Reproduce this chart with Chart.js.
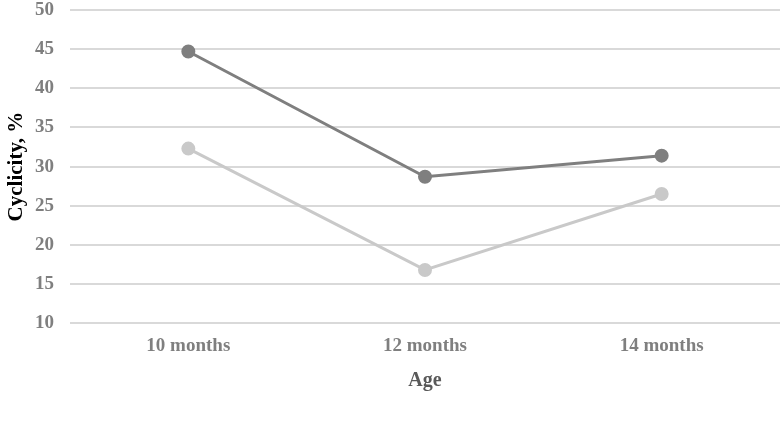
<!DOCTYPE html>
<html>
<head>
<meta charset="utf-8">
<script src="https://cdn.jsdelivr.net/npm/chart.js@4/dist/chart.umd.min.js"></script>
<style>
  html, body { margin: 0; padding: 0; background: #fff; }
  #wrap { width: 780px; height: 434px; }
</style>
</head>
<body>
<div id="wrap"><canvas id="grafico"></canvas></div>
<script>
// dados
const categorias = ['10 months', '12 months', '14 months'];
const valoresControl = [44.7, 28.7, 31.4];
const valoresMultimin = [32.3, 16.8, 26.5];
const ticksY = [10, 15, 20, 25, 30, 35, 40, 45, 50];

const corControl = '#7f7f7f';
const corMultimin = '#c9c9c9';
const corGrade = '#d9d9d9';
const corTexto = '#7f7f7f';
const fonte = "'Liberation Serif', 'Times New Roman', serif";
const espacoLegenda = 26;

// icone da legenda: linha com circulo
function iconeLegenda(cor) {
    var c = document.createElement('canvas');
    c.width = 40; c.height = 12;
    var ctx = c.getContext('2d');
    ctx.strokeStyle = cor;
    ctx.lineWidth = 3;
    ctx.beginPath();
    ctx.moveTo(0, 6); ctx.lineTo(40, 6);
    ctx.stroke();
    ctx.fillStyle = cor;
    ctx.beginPath();
    ctx.arc(20, 6, 5, 0, Math.PI * 2);
    ctx.fill();
    return c;
}

const icones = [iconeLegenda(corControl), iconeLegenda(corMultimin)];

// encurta a caixa da legenda (o padding so serve para separar os itens na horizontal)
const ajusteLegenda = {
    id: 'ajusteLegenda',
    afterInit: (chart) => {
        var legenda = chart.legend;
        if (!legenda) return;
        var fitOriginal = legenda.fit;
        legenda.fit = function () {
            fitOriginal.call(this);
            this.height -= 5 + espacoLegenda;
        };
    }
};

const data = {
    labels: categorias,
    datasets: [{
        label: 'Control',
        data: valoresControl,
        borderColor: corControl,
        backgroundColor: corControl,
        borderWidth: 3,
        pointRadius: 5.5,
        pointHoverRadius: 5.5,
        tension: 0
    }, {
        label: 'Multimin',
        data: valoresMultimin,
        borderColor: corMultimin,
        backgroundColor: corMultimin,
        borderWidth: 3,
        pointRadius: 5.5,
        pointHoverRadius: 5.5,
        tension: 0
    }]
};

const config = {
    type: 'line',
    data,
    plugins: [ajusteLegenda],
    options: {
        responsive: true,
        maintainAspectRatio: false,
        animation: false,
        layout: { autoPadding: false, padding: { top: 0, right: 0, left: 4, bottom: 0 } },
        plugins: {
            tooltip: { enabled: false },
            legend: {
                position: 'bottom',
                labels: {
                    usePointStyle: true,
                    pointStyleWidth: 30,
                    padding: espacoLegenda,
                    color: corTexto,
                    font: { family: fonte, size: 19, weight: 'bold' },
                    generateLabels: (chart) => chart.data.datasets.map((ds, i) => ({
                        text: ds.label,
                        pointStyle: icones[i],
                        fontColor: corTexto,
                        datasetIndex: i,
                        hidden: false,
                        lineWidth: 0,
                        strokeStyle: 'transparent',
                        fillStyle: ds.borderColor
                    }))
                }
            }
        },
        scales: {
            x: {
                offset: true,
                afterFit: (axis) => { axis.paddingLeft = 0; axis.paddingRight = 0; },
                grid: { display: false },
                border: { display: false },
                ticks: {
                    color: corTexto,
                    padding: 3,
                    font: { family: fonte, size: 19, weight: 'bold' }
                },
                title: {
                    display: true,
                    text: 'Age',
                    color: '#595959',
                    padding: { top: 9, bottom: 17 },
                    font: { family: fonte, size: 20, weight: 'bold' }
                }
            },
            y: {
                min: 10,
                max: 50,
                afterBuildTicks: (axis) => { axis.ticks = ticksY.map(v => ({ value: v })); },
                afterFit: (axis) => { axis.width = 66; axis.paddingTop = 10; axis.paddingBottom = 0; },
                grid: { color: corGrade, lineWidth: 2, drawTicks: false },
                border: { display: false },
                ticks: {
                    color: corTexto,
                    padding: 16,
                    font: { family: fonte, size: 19, weight: 'bold' }
                },
                title: {
                    display: true,
                    text: 'Cyclicity, %',
                    color: '#000',
                    padding: { top: 0, bottom: 0 },
                    font: { family: fonte, size: 21, weight: 'bold' }
                }
            }
        }
    }
};

new Chart(document.getElementById('grafico'), config);
</script>
</body>
</html>
